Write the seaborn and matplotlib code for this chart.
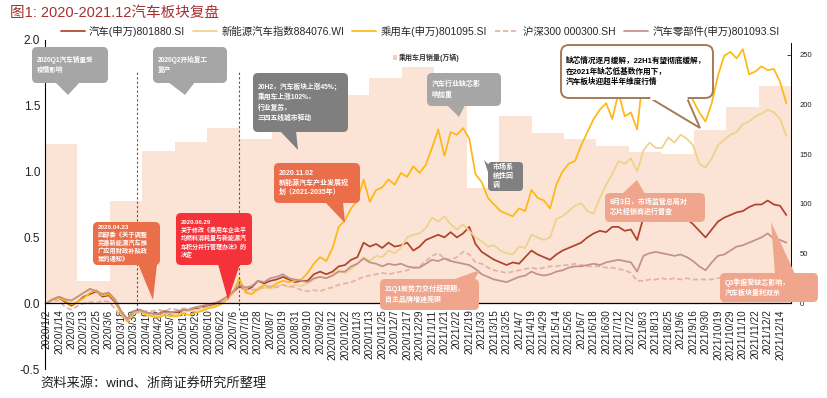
import numpy as np
import pandas as pd
import matplotlib
matplotlib.use("Agg")
import matplotlib.pyplot as plt
import matplotlib.transforms as mtransforms
from matplotlib.patches import FancyBboxPatch, Polygon
import seaborn as sns

# ==============================================================================
# DATOS
# ==============================================================================
tick_labels = [
    "2020/1/2", "2020/1/14", "2020/2/3", "2020/2/13", "2020/2/25", "2020/3/6",
    "2020/3/18", "2020/3/30", "2020/4/10", "2020/4/22", "2020/5/7", "2020/5/19",
    "2020/5/29", "2020/6/10", "2020/6/22", "2020/7/6", "2020/7/16", "2020/7/28",
    "2020/8/7", "2020/8/19", "2020/8/31", "2020/9/10", "2020/9/22", "2020/10/12",
    "2020/10/22", "2020/11/3", "2020/11/13", "2020/11/25", "2020/12/7", "2020/12/17",
    "2020/12/29", "2021/1/11", "2021/1/21", "2021/2/2", "2021/2/19", "2021/3/3",
    "2021/3/15", "2021/3/25", "2021/4/7", "2021/4/19", "2021/4/29", "2021/5/14",
    "2021/5/26", "2021/6/7", "2021/6/18", "2021/6/30", "2021/7/12", "2021/7/22",
    "2021/8/3", "2021/8/13", "2021/8/25", "2021/9/6", "2021/9/16", "2021/9/30",
    "2021/10/19", "2021/10/29", "2021/11/10", "2021/11/22", "2021/12/2", "2021/12/14",
]

months = [f"{y}-{m:02d}" for y in (2020, 2021) for m in range(1, 13)][:23]
car_sales = [160, 22, 103, 153, 162, 176, 165, 181, 205, 210, 227, 238,
             215, 116, 188, 171, 165, 158, 152, 150, 174, 198, 219]

# rendimiento acumulado, un punto cada 4 dias habiles
auto_sw = [
    0.00, 0.03, 0.04, 0.01, -0.02, 0.01, 0.05, 0.07, 0.09, 0.05,
    0.06, 0.01, -0.07, -0.12, -0.06, -0.05, -0.07, -0.08, -0.08, -0.06,
    -0.07, -0.07, -0.05, -0.05, -0.04, -0.03, -0.02, -0.01, 0.01, 0.04,
    0.08, 0.13, 0.10, 0.12, 0.17, 0.15, 0.17, 0.18, 0.20, 0.18,
    0.16, 0.17, 0.17, 0.22, 0.24, 0.22, 0.24, 0.28, 0.29, 0.33,
    0.35, 0.46, 0.43, 0.45, 0.42, 0.46, 0.43, 0.44, 0.46, 0.40,
    0.43, 0.48, 0.50, 0.52, 0.50, 0.54, 0.50, 0.53, 0.58, 0.45,
    0.39, 0.36, 0.33, 0.31, 0.29, 0.31, 0.30, 0.35, 0.40, 0.37,
    0.35, 0.33, 0.37, 0.40, 0.42, 0.44, 0.46, 0.50, 0.53, 0.55,
    0.54, 0.58, 0.58, 0.55, 0.56, 0.48, 0.65, 0.66, 0.66, 0.67,
    0.66, 0.67, 0.66, 0.64, 0.60, 0.55, 0.50, 0.56, 0.62, 0.65,
    0.67, 0.69, 0.70, 0.73, 0.75, 0.75, 0.78, 0.75, 0.74, 0.67,
]
nev_idx = [
    0.00, 0.03, 0.05, 0.03, 0.02, 0.05, 0.08, 0.10, 0.09, 0.06,
    0.07, 0.03, -0.06, -0.12, -0.07, -0.06, -0.08, -0.09, -0.10, -0.08,
    -0.08, -0.09, -0.07, -0.06, -0.05, -0.05, -0.03, -0.02, 0.00, 0.04,
    0.08, 0.16, 0.09, 0.07, 0.10, 0.12, 0.11, 0.13, 0.14, 0.12,
    0.14, 0.13, 0.15, 0.18, 0.20, 0.19, 0.22, 0.25, 0.23, 0.26,
    0.30, 0.35, 0.32, 0.36, 0.35, 0.40, 0.38, 0.42, 0.50, 0.52,
    0.53, 0.57, 0.65, 0.62, 0.66, 0.60, 0.56, 0.60, 0.55, 0.50,
    0.47, 0.43, 0.44, 0.40, 0.38, 0.37, 0.43, 0.42, 0.52, 0.50,
    0.48, 0.50, 0.64, 0.66, 0.70, 0.74, 0.76, 0.70, 0.68, 0.80,
    0.90, 0.98, 1.08, 1.06, 1.10, 1.00, 1.16, 1.22, 1.18, 1.18,
    1.26, 1.22, 1.28, 1.25, 1.20, 1.06, 1.03, 1.10, 1.20, 1.24,
    1.28, 1.30, 1.36, 1.38, 1.42, 1.44, 1.47, 1.45, 1.40, 1.27,
]
pv_sw = [
    0.00, 0.03, 0.04, 0.02, -0.01, 0.01, 0.04, 0.08, 0.10, 0.06,
    0.07, 0.02, -0.08, -0.14, -0.08, -0.06, -0.09, -0.10, -0.11, -0.09,
    -0.10, -0.10, -0.08, -0.09, -0.07, -0.06, -0.04, -0.03, -0.01, 0.03,
    0.08, 0.19, 0.08, 0.07, 0.11, 0.14, 0.12, 0.15, 0.17, 0.16,
    0.17, 0.18, 0.23, 0.30, 0.35, 0.32, 0.42, 0.58, 0.63, 0.72,
    0.78, 0.94, 0.77, 0.86, 0.88, 0.94, 0.90, 0.99, 0.96, 1.04,
    0.99, 1.05, 1.18, 1.32, 1.12, 1.30, 1.28, 1.33, 1.25, 0.98,
    0.92, 0.80, 0.75, 0.70, 0.68, 0.66, 0.72, 0.70, 0.86, 0.80,
    0.78, 0.72, 0.90, 1.00, 1.06, 1.08, 1.20, 1.30, 1.40, 1.47,
    1.52, 1.40, 1.60, 1.42, 1.45, 1.32, 1.75, 1.70, 1.78, 1.80,
    1.74, 1.72, 1.79, 1.66, 1.54, 1.45, 1.38, 1.52, 1.73, 1.88,
    1.91, 1.86, 1.93, 1.74, 1.76, 1.80, 1.77, 1.78, 1.68, 1.52,
]
hs300 = [
    0.00, 0.02, 0.02, -0.03, -0.05, -0.02, 0.00, 0.01, 0.00, 0.02,
    0.01, -0.04, -0.10, -0.12, -0.08, -0.07, -0.06, -0.06, -0.05, -0.06,
    -0.04, -0.05, -0.04, -0.04, -0.03, -0.03, -0.01, 0.00, 0.00, 0.02,
    0.08, 0.14, 0.11, 0.10, 0.11, 0.12, 0.13, 0.12, 0.14, 0.13,
    0.12, 0.10, 0.09, 0.10, 0.09, 0.11, 0.12, 0.14, 0.15, 0.16,
    0.18, 0.20, 0.21, 0.22, 0.23, 0.22, 0.23, 0.24, 0.25, 0.27,
    0.28, 0.32, 0.36, 0.38, 0.34, 0.33, 0.35, 0.39, 0.37, 0.31,
    0.30, 0.27, 0.25, 0.24, 0.23, 0.24, 0.25, 0.26, 0.27, 0.26,
    0.27, 0.28, 0.28, 0.29, 0.29, 0.30, 0.29, 0.28, 0.28, 0.28,
    0.27, 0.27, 0.26, 0.25, 0.23, 0.17, 0.17, 0.18, 0.18, 0.19,
    0.18, 0.19, 0.18, 0.19, 0.18, 0.18, 0.18, 0.18, 0.19, 0.20,
    0.20, 0.20, 0.20, 0.21, 0.21, 0.22, 0.22, 0.20, 0.19, 0.18,
]
parts_sw = [
    0.00, 0.03, 0.05, 0.03, 0.02, 0.05, 0.08, 0.11, 0.09, 0.07,
    0.08, 0.03, -0.06, -0.12, -0.06, -0.05, -0.07, -0.08, -0.08, -0.07,
    -0.07, -0.06, -0.05, -0.05, -0.03, -0.02, -0.01, 0.00, 0.02, 0.05,
    0.09, 0.14, 0.12, 0.13, 0.17, 0.16, 0.19, 0.20, 0.22, 0.19,
    0.18, 0.17, 0.16, 0.19, 0.20, 0.19, 0.21, 0.24, 0.24, 0.28,
    0.30, 0.34, 0.31, 0.30, 0.28, 0.30, 0.29, 0.30, 0.28, 0.27,
    0.27, 0.30, 0.33, 0.32, 0.34, 0.32, 0.31, 0.30, 0.29, 0.26,
    0.22, 0.20, 0.18, 0.17, 0.16, 0.18, 0.20, 0.21, 0.24, 0.22,
    0.21, 0.22, 0.24, 0.25, 0.27, 0.28, 0.28, 0.29, 0.30, 0.29,
    0.31, 0.32, 0.33, 0.32, 0.31, 0.24, 0.36, 0.38, 0.39, 0.38,
    0.37, 0.36, 0.37, 0.35, 0.32, 0.28, 0.25, 0.31, 0.36, 0.37,
    0.40, 0.43, 0.44, 0.46, 0.48, 0.50, 0.53, 0.49, 0.48, 0.46,
]

series_names = ["汽车(申万)801880.SI", "新能源汽车指数884076.WI", "乘用车(申万)801095.SI",
                "沪深300 000300.SH", "汽车零部件(申万)801093.SI"]
series_colors = ["#B0432A", "#EDD28A", "#FDB813", "#E3B3A0", "#C0928A"]

day_idx = np.arange(len(pv_sw)) * 4
n_days = 479

# ==============================================================================
# FIGURA
# ==============================================================================
sns.set_theme(style="white")
plt.rcParams['font.family'] = ['Liberation Sans', 'Noto Sans CJK SC']
plt.rcParams['axes.unicode_minus'] = False

W, H = 827, 398
fig = plt.figure(figsize=(W / 100, H / 100), dpi=100)
px = mtransforms.Affine2D().scale(1 / W, -1 / H).translate(0, 1) + fig.transFigure
rect = [45 / W, 1 - 369 / H, (791 - 45) / W, (369 - 40) / H]

# barras de ventas mensuales (eje derecho)
ax_bar = fig.add_axes(rect)
df_bar = pd.DataFrame({"mes": months, "ventas": car_sales})
sns.barplot(data=df_bar, x="mes", y="ventas", ax=ax_bar, color="#FBE3D6",
            saturation=1, width=1.0, linewidth=0, edgecolor="none")
ax_bar.set_xlim(-0.5, len(months) - 0.5)
ax_bar.set_ylim(-265 / 4, 265)
ax_bar.set_xticks([])
ax_bar.set_xlabel("")
ax_bar.set_ylabel("")
ax_bar.yaxis.tick_right()
ax_bar.set_yticks(range(0, 251, 50))
ax_bar.tick_params(axis="y", direction="in", length=3, width=0.6, labelsize=5.5,
                   pad=6, colors="#222222")
for s in ["left", "top", "bottom"]:
    ax_bar.spines[s].set_visible(False)
ax_bar.spines["right"].set_bounds(0, 262)
ax_bar.spines["right"].set_color("black")
ax_bar.spines["right"].set_linewidth(0.7)

# lineas (eje izquierdo)
ax = fig.add_axes(rect)
ax.set_facecolor("none")
for vals, name, col in zip([auto_sw, nev_idx, pv_sw, hs300, parts_sw], series_names, series_colors):
    kw = dict(linestyle=(0, (3, 1.6))) if name.startswith("沪深") else {}
    sns.lineplot(x=day_idx, y=vals, ax=ax, color=col, linewidth=1.25, label=name, **kw)
if ax.get_legend() is not None:
    ax.get_legend().remove()

ax.vlines([58, 124], -0.05, 1.77, colors="#A8382C", linestyles=(0, (2, 2)), linewidth=0.8)

ax.set_xlim(-1, n_days)
ax.set_ylim(-0.5, 2.0)
ax.set_xticks(np.arange(len(tick_labels)) * 8)
ax.set_xticklabels(tick_labels)
ax.set_xticks(np.arange(0, n_days, 1), minor=True)
ax.tick_params(axis="x", which="both", direction="inout", length=3.2, width=0.75,
               color="#111111", pad=3)
ax.tick_params(axis="x", which="major", labelrotation=90, labelsize=7.2, labelcolor="#222222")
ax.set_yticks([-0.5, 0, 0.5, 1.0, 1.5, 2.0])
ax.set_yticklabels(["-0.5", "0.0", "0.5", "1.0", "1.5", "2.0"])
ax.tick_params(axis="y", direction="in", length=4, width=0.7, color="black",
               labelsize=8.5, labelcolor="#222222")
ax.spines["bottom"].set_position(("data", 0))
ax.spines["bottom"].set_color("black")
ax.spines["bottom"].set_linewidth(0.9)
ax.spines["left"].set_color("black")
ax.spines["left"].set_linewidth(0.8)
ax.spines["top"].set_visible(False)
ax.spines["right"].set_visible(False)

handles, labels = ax.get_legend_handles_labels()
fig.legend(handles, labels, loc="center", bbox_to_anchor=(0.508, 1 - 31 / H), ncol=5,
           frameon=False, fontsize=7.5, handlelength=2.3, handletextpad=0.4,
           columnspacing=0.8)

# titulo, fuente, leyenda de barras
fig.text(10, 13, "图1: 2020-2021.12汽车板块复盘", transform=px, va="center", ha="left",
         fontsize=10.5, color="#A7302F")
fig.text(40, 383, "资料来源：wind、浙商证券研究所整理", transform=px, va="center", ha="left",
         fontsize=9.5, color="#222222")
fig.add_artist(FancyBboxPatch((393, 55), 4, 5, boxstyle="square,pad=0", transform=px,
                              facecolor="#F6CDB8", edgecolor="none", zorder=5))
fig.text(399, 58, "乘用车月销量(万辆)", transform=px, va="center", ha="left",
         fontsize=5, fontweight="bold", color="#333333", zorder=5)


# ==============================================================================
# CUADROS DE ANOTACION
# ==============================================================================
def callout(box, tail, face, lines, fs, tcolor="white", edge=None, ls=1.35, r=5):
    x0, y0, x1, y1 = box
    if edge is None:
        fig.add_artist(Polygon(tail, closed=True, transform=px, facecolor=face,
                               edgecolor="none", zorder=5))
        fig.add_artist(FancyBboxPatch((x0, y0), x1 - x0, y1 - y0,
                                      boxstyle=f"round,pad=0,rounding_size={r}",
                                      transform=px, facecolor=face, edgecolor="none", zorder=5))
    else:
        fig.add_artist(FancyBboxPatch((x0, y0), x1 - x0, y1 - y0,
                                      boxstyle=f"round,pad=0,rounding_size={r}",
                                      transform=px, facecolor=face, edgecolor=edge,
                                      linewidth=1.4, zorder=5))
        fig.add_artist(Polygon(tail, closed=False, transform=px, facecolor=face,
                               edgecolor=edge, linewidth=1.4, zorder=5.1))
        (bx0, by), (bx1, _) = tail[0], tail[-1]
        fig.add_artist(plt.Line2D([bx0 + 1.2, bx1 - 1.2], [by, by], transform=px,
                                  color=face, linewidth=2.2, zorder=5.2))
    fig.text(x0 + 5, (y0 + y1) / 2, "\n".join(lines), transform=px, ha="left", va="center",
             fontsize=fs, color=tcolor, fontweight="bold", linespacing=ls, zorder=6)


callout((32, 47, 108, 83), [(55, 82), (80, 82), (68, 95)], "#A6A6A6",
        ["2020Q1汽车销量受", "疫情影响"], 4.8, ls=1.6)
callout((153, 47, 227, 83), [(168, 82), (195, 82), (185, 95)], "#A6A6A6",
        ["2020Q2开始复工", "复产"], 4.8, ls=1.6)
callout((253, 73, 348, 132), [(280, 131), (296, 131), (298, 150)], "#7F7F7F",
        ["20H2，汽车板块上涨45%；", "乘用车上涨102%，", "行业复苏，", "三四五线城市驱动"], 4.9, ls=1.6)
callout((427, 73, 501, 106), [(447, 105), (465, 105), (459, 117)], "#A6A6A6",
        ["汽车行业缺芯影", "响加重"], 5.0, ls=1.6)
callout((488, 162, 523, 191), [(490, 166), (490, 178), (484, 160)], "#808080",
        ["市场系", "统性回", "调"], 5.0, ls=1.3, r=4)
callout((561, 45, 713, 98), [(650, 98), (700, 128), (687, 98)], "white",
        ["缺芯情况逐月缓解，22H1有望彻底缓解，", "在2021年缺芯低基数作用下，", "汽车板块迎超半年维度行情"],
        5.5, tcolor="black", edge="#A57B55", ls=1.35, r=8)
callout((274, 163, 360, 203), [(325, 202), (343, 202), (345, 223)], "#EA6E4A",
        ["2020.11.02", "新能源汽车产业发展规", "划（2021-2035年）"], 5.0, ls=1.5)
callout((93, 222, 160, 265), [(138, 264), (157, 264), (153, 300)], "#EA6E4A",
        ["2020.04.23", "四部委《关于调整", "完善新能源汽车推", "广应用财政补贴政", "策的通知》"], 4.5, ls=1.25)
callout((176, 213, 252, 265), [(218, 264), (240, 264), (228, 300)], "#F5323A",
        ["2020.06.29", "关于修改《乘用车企业平", "均燃料消耗量与新能源汽", "车积分并行管理办法》的", "决定"],
        4.3, ls=1.35)
callout((380, 279, 479, 310), [(452, 280), (474, 280), (480, 270)], "#F0A58D",
        ["21Q1新势力交付超预期，", "自主品牌增速亮眼"], 5.0, ls=1.5)
callout((605, 193, 705, 222), [(622, 194), (645, 194), (637, 180)], "#F0A58D",
        ["8月3日，市场监管总局对", "芯片经销商进行督查"], 5.0, ls=1.5)
callout((720, 273, 818, 302), [(775, 274), (795, 274), (771, 222)], "#F0A58D",
        ["Q3季报受缺芯影响，", "汽车板块量利双杀"], 5.0, ls=1.5)

fig.savefig("out.png", dpi=100)
